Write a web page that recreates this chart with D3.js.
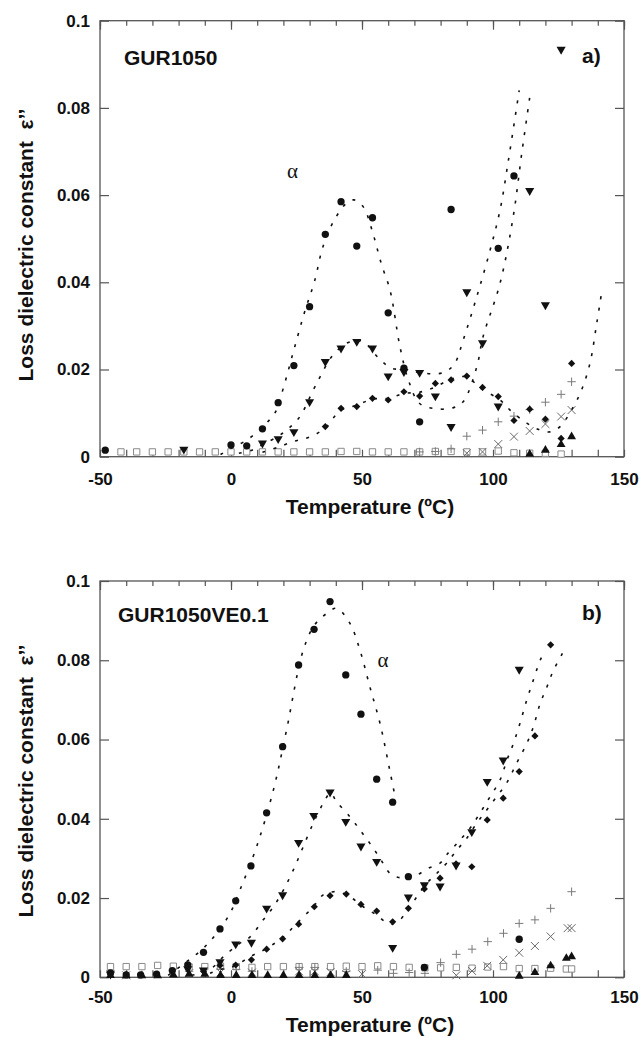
<!DOCTYPE html>
<html lang="en">
<head>
<meta charset="UTF-8">
<title>Loss dielectric constant vs temperature</title>
<script src="https://d3js.org/d3.v7.min.js"></script>
<style>
  body { margin: 0; background: #fff; }
  svg text { font-family: Arial, "Liberation Sans", sans-serif; fill: #111; }
  .tick text { font-size: 17px; font-weight: bold; fill: #111; }
  .tick line { stroke: #555; stroke-width: 1.2; }
  .frame { fill: none; stroke: #555; stroke-width: 1.3; }
  .fit { fill: none; stroke: #111; stroke-width: 1.6; stroke-dasharray: 3 8.5; }
  .ylabel, .xlabel { font-weight: bold; }
  .name { font-size: 21px; font-weight: bold; }
  .alpha { font-family: "Liberation Serif", "DejaVu Serif", serif !important; font-size: 21px; }
</style>
</head>
<body>
<svg id="chart" width="640" height="1038"></svg>
<script>
// ---- panel a) GUR1050 : [temperature (C), eps''] ----
let aCircle = [[-48,0.0015],[0,0.0027],[6,0.0025],[12,0.0064],[18,0.0124],[24,0.0209],[30,0.0344],[36,0.051],[42,0.0585],[48,0.0483],[54,0.0548],[60,0.033],[66,0.0203],[72,0.008],[84,0.0567],[102,0.0478],[108,0.0644]]
let aTriDown = [[-18,0.0017],[12,0.0031],[18,0.0041],[24,0.0057],[30,0.0126],[36,0.0218],[42,0.0249],[48,0.0264],[54,0.0249],[60,0.0185],[66,0.0195],[72,0.0193],[78,0.0139],[84,0.0069],[90,0.0378],[96,0.0261],[102,0.0116],[114,0.061],[120,0.0348],[126,0.0934]]
let aDiamond = [[36,0.0069],[42,0.0111],[48,0.0115],[54,0.0134],[60,0.013],[66,0.0149],[72,0.0139],[78,0.0168],[84,0.0176],[90,0.0185],[96,0.0159],[102,0.0138],[108,0.0083],[114,0.0109],[120,0.0086],[126,0.0042],[130,0.0214]]
let aTriUp = [[114,0.0006],[120,0.0015],[126,0.0028],[130,0.0046]]
let aPlus = [[72,0.0011],[78,0.0012],[84,0.0018],[90,0.0047],[96,0.0061],[102,0.008],[108,0.0093],[114,0.0108],[120,0.0125],[126,0.0143],[130,0.0172]]
let aCross = [[90,0.0008],[96,0.0011],[102,0.0029],[108,0.0046],[114,0.0059],[120,0.0075],[126,0.0092],[130,0.0107]]
let aSquareT = [-42,-36,-30,-24,-18,-12,-6,0,6,12,18,24,30,36,42,48,54,60,66,72,78,84,90,96,102,108,114,120,126]
let aSquareE = [0.0011,0.0011,0.0011,0.0011,0.0011,0.0011,0.0011,0.0011,0.0011,0.0011,0.0011,0.0011,0.0011,0.0011,0.0012,0.0012,0.0011,0.0011,0.0011,0.0011,0.0012,0.0012,0.0011,0.0011,0.0013,0.0009,0.0008,0.0008,0.0006]
// dotted fit curves, panel a)
let aFitCircle = [[-4,0.0005],[0,0.0019],[6,0.0038],[12,0.0068],[17,0.0103],[20,0.0158],[24,0.0245],[28,0.033],[32,0.0405],[35,0.048],[39,0.0538],[44,0.0581],[47,0.0589],[50.5,0.0573],[53.6,0.0524],[57.5,0.044],[60.7,0.0382],[64.5,0.0252],[67.7,0.0176],[72,0.0122],[78,0.011],[84.7,0.0112],[88.6,0.0126],[93.8,0.0206],[96.2,0.0275],[102.7,0.0398],[107.7,0.055],[111,0.0697],[114.4,0.084]]
let aFitTri = [[3,0.0008],[8,0.0015],[12,0.0028],[17.8,0.0046],[22,0.0065],[26.3,0.0092],[31.4,0.0153],[34,0.0183],[38.4,0.0229],[44,0.026],[48,0.0266],[50.5,0.0264],[57,0.0222],[61.3,0.0203],[65,0.02],[72,0.0193],[78,0.019],[82,0.0195],[85.5,0.0215],[88.6,0.0267],[93.8,0.0367],[98.9,0.0474],[102.7,0.0566],[105.7,0.0673],[110,0.084]]
let aFitDiamond = [[12,0.001],[18,0.0022],[24,0.0035],[30,0.0045],[36,0.0066],[41.6,0.0105],[48,0.0118],[54,0.0132],[60,0.0134],[66,0.0145],[72,0.0148],[78,0.016],[84,0.0178],[90,0.0183],[95,0.0158],[102.7,0.013],[106.5,0.0107],[112.9,0.0077],[118,0.0061],[121.8,0.0057],[125.6,0.0069],[130.7,0.0115],[133.8,0.0153],[137,0.0214],[139.6,0.0306],[141.5,0.0378]]

// ---- panel b) GUR1050VE0.1 ----
let bCircle = [[-46,0.0011],[-40,0.0006],[-34.5,0.0006],[-28.4,0.0008],[-22.4,0.0017],[-16.5,0.0031],[-10.5,0.0063],[-4.2,0.0122],[1.8,0.0193],[7.6,0.0281],[13.6,0.0415],[19.7,0.0582],[25.8,0.0788],[31.7,0.0878],[37.8,0.0948],[43.8,0.0763],[49.6,0.0664],[55.6,0.05],[61.7,0.0442],[67.7,0.0254],[73.8,0.0025],[110,0.0096]]
let bTriDown = [[-46,0.0008],[-16.5,0.0021],[-10.5,0.0018],[-4.2,0.0039],[1.8,0.0084],[7.8,0.0088],[13.6,0.0174],[19.7,0.0208],[25.8,0.034],[31.6,0.0408],[37.8,0.0467],[43.8,0.0393],[49.6,0.0331],[55.6,0.0292],[61.7,0.0075],[67.7,0.0202],[73.8,0.0233],[79.8,0.023],[85.9,0.0283],[91.9,0.0367],[97.8,0.0494],[103.9,0.0548],[110,0.0777]]
let bDiamond = [[-10.5,0.0015],[-4.2,0.003],[1.8,0.0031],[7.8,0.0044],[13.6,0.0071],[19.7,0.0097],[25.8,0.0134],[31.8,0.0178],[37.8,0.0206],[44,0.021],[49.6,0.0184],[55.6,0.0167],[61.7,0.014],[67.7,0.0174],[73.8,0.0223],[79.8,0.025],[85.9,0.0286],[91.9,0.0279],[97.8,0.0397],[103.9,0.0452],[110,0.0519],[116,0.0609],[122,0.0839]]
let bTriUp = [[-46,0.0005],[-40,0.0004],[-34,0.0004],[-28,0.0004],[-22,0.0006],[-16,0.0008],[-10,0.0008],[-4,0.0005],[2,0.0005],[8,0.0005],[14,0.0005],[20,0.0005],[26,0.0005],[32,0.0005],[38,0.0005],[44,0.0005],[110,0.0003],[116,0.0012],[122,0.0029],[128,0.0048],[130,0.0052]]
let bPlus = [[-16,0.0015],[-4,0.002],[2,0.002],[8,0.0015],[26,0.0025],[32,0.0025],[44,0.0015],[56,0.0018],[62,0.001],[68,0.0012],[74,0.001],[80,0.0037],[86,0.0058],[92,0.0071],[98,0.009],[104,0.0111],[110,0.0136],[116,0.0145],[122,0.0174],[130,0.0216]]
let bCross = [[-46,0.0008],[-40,0.0005],[-16,0.001],[-4,0.0012],[8,0.0012],[26,0.0015],[32,0.0015],[38,0.0013],[44,0.0008],[50,0.0008],[86,0.0005],[92,0.0016],[97.8,0.0029],[103.9,0.0044],[110,0.0062],[116,0.0079],[122,0.0103],[128.5,0.0124],[130,0.0124]]
let bSquareT = [-46,-40,-34,-28,-22,-16,-10,-4,2,8,14,20,26,32,38,44,50,56,62,68,74,80,86,92,98,104,110,116,122,128,130]
let bSquareE = [0.0027,0.0027,0.0027,0.003,0.0028,0.0026,0.0027,0.0028,0.0027,0.0025,0.0027,0.0027,0.0027,0.0027,0.0027,0.0028,0.0027,0.0029,0.0027,0.0025,0.0024,0.0024,0.0025,0.0023,0.0026,0.0027,0.0022,0.0022,0.0023,0.0021,0.0021]
let bFitCircle = [[-24,0.0005],[-17,0.0039],[-10.6,0.0073],[-5.5,0.0111],[-0.4,0.0161],[3.4,0.022],[9.8,0.033],[16.2,0.0473],[21.2,0.0624],[27.6,0.0826],[32,0.089],[36.5,0.0918],[40.3,0.0931],[45.4,0.0893],[49.2,0.0826],[53,0.0733],[56.9,0.064],[60.7,0.0519],[62.5,0.046]]
let bFitTri = [[-15,0.0005],[-8,0.002],[-2.9,0.0052],[3.4,0.0086],[7.3,0.0102],[12.3,0.0145],[16.2,0.0178],[20,0.022],[23.8,0.0271],[27.6,0.033],[31.4,0.0389],[35.2,0.0439],[38,0.0465],[40.3,0.0443],[45.4,0.0405],[49.2,0.0372],[53,0.0338],[56.9,0.03],[60.7,0.0262],[64,0.0252],[68.3,0.0252],[71,0.0258],[75.3,0.0275],[79.8,0.0288],[82.3,0.0309],[86.8,0.0342],[91.2,0.0376],[95,0.0414],[98.9,0.0456],[102.7,0.0498],[105.3,0.0548],[107.8,0.059],[110.3,0.0641],[112.9,0.07],[115.4,0.075],[118,0.08],[120,0.0826]]
let bFitDiamond = [[-8,0.001],[-4,0.002],[0.9,0.0027],[7.3,0.0052],[13.6,0.0073],[20,0.0102],[25.1,0.0136],[31.4,0.0178],[35.2,0.0208],[40.3,0.0216],[45.4,0.0203],[50.5,0.0178],[55.6,0.0157],[59.4,0.0138],[62,0.0136],[64.5,0.0145],[68.3,0.0178],[70.9,0.0203],[74.7,0.0237],[78.5,0.0262],[82.3,0.0288],[86.2,0.0321],[90,0.0351],[93.8,0.0389],[97.6,0.0422],[101.4,0.0456],[105.2,0.049],[109,0.054],[112.9,0.059],[115.4,0.0632],[118,0.0691],[120.6,0.0733],[123.1,0.0775],[126.9,0.0822]]

let xMajor = [-50, 0, 50, 100, 150]
let xMinor = d3.range(-50, 151, 10)
let yTicks = [0, 0.02, 0.04, 0.06, 0.08, 0.1]

// stroked plus / times symbols
let plusSym = { draw(ctx, size) { let r = Math.sqrt(size) / 2; ctx.moveTo(-r, 0); ctx.lineTo(r, 0); ctx.moveTo(0, -r); ctx.lineTo(0, r) } }
let timesSym = { draw(ctx, size) { let r = Math.sqrt(size) / 2.4; ctx.moveTo(-r, -r); ctx.lineTo(r, r); ctx.moveTo(-r, r); ctx.lineTo(r, -r) } }

let svg = d3.select("#chart")

function drawPanel(p) {
    let x = d3.scaleLinear().domain([-50, 150]).range([100, 624])
    let y = d3.scaleLinear().domain([0, 0.1]).range([p.bottom, p.top])
    let g = svg.append("g")

    // frame
    g.append("rect").attr("class", "frame")
        .attr("x", x(-50)).attr("y", y(0.1))
        .attr("width", x(150) - x(-50)).attr("height", y(0) - y(0.1))

    // axes (ticks inward)
    g.append("g").attr("transform", `translate(0,${y(0)})`)
        .call(d3.axisBottom(x).tickValues(xMinor).tickSize(-7).tickPadding(p.xPad)
            .tickFormat(d => xMajor.includes(d) ? String(d) : ""))
        .call(a => a.select(".domain").remove())
    g.append("g").attr("transform", `translate(0,${y(0.1)})`)
        .call(d3.axisTop(x).tickValues(xMinor).tickSize(-5).tickFormat(""))
        .call(a => a.select(".domain").remove())
    g.append("g").attr("transform", `translate(0,${y(0.1)})`)
        .call(d3.axisTop(x).tickValues(xMajor).tickSize(-9).tickFormat(""))
        .call(a => a.select(".domain").remove())
    g.append("g").attr("transform", `translate(${x(-50)},0)`)
        .call(d3.axisLeft(y).tickValues(yTicks).tickSize(-9).tickPadding(10)
            .tickFormat(d => d === 0 ? "0" : String(+d.toFixed(2))))
        .call(a => a.select(".domain").remove())
    g.append("g").attr("transform", `translate(${x(150)},0)`)
        .call(d3.axisRight(y).tickValues(yTicks).tickSize(-9).tickFormat(""))
        .call(a => a.select(".domain").remove())

    // labels
    g.append("text").attr("class", "ylabel")
        .attr("transform", `translate(33,${p.yLabelMid}) rotate(-90)`)
        .attr("text-anchor", "middle").style("font-size", "21px")
        .text("Loss dielectric constant\u00a0\u00a0ε\u2019\u2019")
    g.append("text").attr("class", "xlabel")
        .attr("x", 370).attr("y", p.xLabelY)
        .attr("text-anchor", "middle").style("font-size", "21px")
        .text("Temperature (ºC)")
    g.append("text").attr("class", "name").attr("x", p.nameX).attr("y", p.nameY).text(p.name)
    g.append("text").attr("class", "name").attr("x", 582).attr("y", p.nameY - 2).text(p.tag)
    g.append("text").attr("class", "alpha").attr("text-anchor", "middle")
        .attr("x", x(p.alpha[0])).attr("y", y(p.alpha[1])).text("α")

    let clip = "clip" + p.tag.replace(")", "")
    g.append("clipPath").attr("id", clip).append("rect")
        .attr("x", x(-50)).attr("y", y(0.1)).attr("width", x(150) - x(-50)).attr("height", y(0) - y(0.1))

    // open squares (gray)
    let sq = p.sqT.map((t, i) => [t, p.sqE[i]])
    g.append("g").selectAll("path").data(sq).join("path")
        .attr("transform", d => `translate(${x(d[0])},${y(d[1])})`)
        .attr("d", d3.symbol().type(d3.symbolSquare).size(40))
        .attr("fill", "white").attr("stroke", "#8a8a8a").attr("stroke-width", 1)

    // gray plus and times
    g.append("g").selectAll("path").data(p.plus).join("path")
        .attr("transform", d => `translate(${x(d[0])},${y(d[1])})`)
        .attr("d", d3.symbol().type(plusSym).size(70))
        .attr("fill", "none").attr("stroke", "#7a7a7a").attr("stroke-width", 1)
    g.append("g").selectAll("path").data(p.cross).join("path")
        .attr("transform", d => `translate(${x(d[0])},${y(d[1])})`)
        .attr("d", d3.symbol().type(timesSym).size(90))
        .attr("fill", "none").attr("stroke", "#6a6a6a").attr("stroke-width", 1)

    // dotted fits
    let line = d3.line().x(d => x(d[0])).y(d => y(d[1])).curve(d3.curveCatmullRom.alpha(0.5))
    g.append("g").attr("clip-path", `url(#${clip})`).selectAll("path")
        .data(p.fits).join("path").attr("class", "fit").attr("d", line)

    // filled markers
    let mark = (data, type, size, rot) => g.append("g").selectAll("path").data(data).join("path")
        .attr("transform", d => `translate(${x(d[0])},${y(d[1])}) rotate(${rot})`)
        .attr("d", d3.symbol().type(type).size(size))
        .attr("fill", "#111")
    mark(p.triUp, d3.symbolTriangle, 34, 0)
    mark(p.diamond, d3.symbolSquare, 26, 45)
    mark(p.triDown, d3.symbolTriangle, 36, 180)
    mark(p.circle, d3.symbolCircle, 42, 0)
}

drawPanel({
    top: 20.7, bottom: 456.7, xPad: 16, xLabelY: 514, yLabelMid: 245,
    name: "GUR1050", nameX: 124, nameY: 65, tag: "a)", alpha: [23.5, 0.064],
    circle: aCircle, triDown: aTriDown, diamond: aDiamond, triUp: aTriUp,
    plus: aPlus, cross: aCross, sqT: aSquareT, sqE: aSquareE,
    fits: [aFitCircle, aFitTri, aFitDiamond]
})
drawPanel({
    top: 581, bottom: 977.3, xPad: 14, xLabelY: 1032, yLabelMid: 781,
    name: "GUR1050VE0.1", nameX: 118, nameY: 622, tag: "b)", alpha: [58, 0.0782],
    circle: bCircle, triDown: bTriDown, diamond: bDiamond, triUp: bTriUp,
    plus: bPlus, cross: bCross, sqT: bSquareT, sqE: bSquareE,
    fits: [bFitCircle, bFitTri, bFitDiamond]
})
</script>
</body>
</html>
